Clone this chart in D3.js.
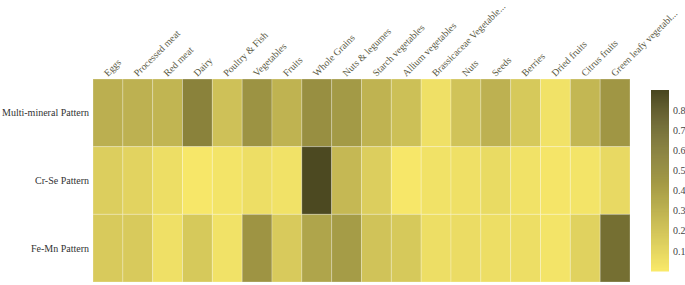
<!DOCTYPE html>
<html>
<head>
<meta charset="utf-8">
<script src="https://cdn.jsdelivr.net/npm/d3@7"></script>
<style>
  body { margin: 0; background: #fff; }
  text { font-family: "Liberation Serif", "DejaVu Serif", serif; }
</style>
</head>
<body>
<div id="heatmap"></div>
<script>
// set the dimensions and margins of the graph
var margin = {top: 79, right: 55, bottom: 2, left: 93},
    width = 630 - margin.left,
    height = 282 - margin.top;

var foods = ["Eggs", "Processed meat", "Red meat", "Dairy", "Poultry & Fish",
    "Vegetables", "Fruits", "Whole Grains", "Nuts & legumes", "Starch vegetables",
    "Allium vegetables", "Brassicaceae Vegetable...", "Nuts", "Seeds", "Berries",
    "Dried fruits", "Citrus fruits", "Green leafy vegetabl..."]

var patterns = ["Multi-mineral Pattern", "Cr-Se Pattern", "Fe-Mn Pattern"]

var multiMineral = [0.32, 0.31, 0.29, 0.57, 0.22, 0.48, 0.30, 0.50, 0.44,
    0.30, 0.23, 0.05, 0.21, 0.31, 0.18, 0.04, 0.28, 0.46]
var crSe = [0.15, 0.12, 0.06, 0.01, 0.03, 0.06, 0.04, 0.89, 0.27,
    0.15, 0.01, 0.04, 0.05, 0.08, 0.04, 0.02, 0.03, 0.09]
var feMn = [0.17, 0.17, 0.05, 0.18, 0.04, 0.47, 0.17, 0.38, 0.43,
    0.21, 0.18, 0.06, 0.07, 0.06, 0.06, 0.03, 0.13, 0.68]

var legendTicks = [0.1, 0.2, 0.3, 0.4, 0.5, 0.6, 0.7, 0.8]

var rows = [multiMineral, crSe, feMn]
var cells = []
for (let i = 0; i < patterns.length; i++) {
    for (let j = 0; j < foods.length; j++) {
        cells.push({row: patterns[i], col: foods[j], value: rows[i][j]})
    }
}

var svg = d3.select("#heatmap")
  .append("svg")
    .attr("width", 685)
    .attr("height", 285)
  .append("g")
    .attr("transform", "translate(" + margin.left + "," + margin.top + ")");

var x = d3.scaleBand().domain(foods).range([0, width])
var y = d3.scaleBand().domain(patterns).range([0, height])

var color = d3.scaleLinear()
    .domain([0, 0.9])
    .range(["#f9e96a", "#4a4720"])
    .interpolate(d3.interpolateRgb)

// cells
svg.selectAll("rect.cell")
    .data(cells)
    .enter().append("rect")
    .attr("class", "cell")
    .attr("x", function(d) { return x(d.col); })
    .attr("y", function(d) { return y(d.row); })
    .attr("width", x.bandwidth())
    .attr("height", y.bandwidth())
    .attr("fill", function(d) { return color(d.value); })
    .attr("stroke", "rgba(255,255,255,0.25)")
    .attr("stroke-width", 1)

// top labels
svg.selectAll("text.col")
    .data(foods)
    .enter().append("text")
    .attr("class", "col")
    .attr("transform", function(d) {
        return "translate(" + (x(d) + x.bandwidth() / 2) + ",-2)rotate(-45)";
    })
    .attr("font-size", "9.8px")
    .attr("fill", "#5a5a45")
    .text(function(d) { return d; })

// left labels
svg.selectAll("text.row")
    .data(patterns)
    .enter().append("text")
    .attr("class", "row")
    .attr("x", -4)
    .attr("y", function(d) { return y(d) + y.bandwidth() / 2; })
    .attr("dy", "0.35em")
    .attr("text-anchor", "end")
    .attr("font-size", "10px")
    .attr("fill", "#333")
    .text(function(d) { return d; })

// color bar
var barX = 651 - margin.left, barW = 18
var yBar = d3.scaleLinear().domain([0, 0.9]).range([271 - margin.top, 90 - margin.top])
var steps = d3.range(0, 0.9, 0.005)
svg.append("g")
    .selectAll("rect")
    .data(steps)
    .enter().append("rect")
    .attr("x", barX)
    .attr("y", function(d) { return yBar(d + 0.005); })
    .attr("width", barW)
    .attr("height", function(d) { return yBar(d) - yBar(d + 0.005) + 0.5; })
    .attr("fill", function(d) { return color(d + 0.0025); })

svg.append("g")
    .attr("transform", "translate(" + (barX + barW) + ",0)")
    .call(d3.axisRight(yBar).tickValues(legendTicks).tickSize(0).tickPadding(4))
    .call(function(g) { g.select(".domain").remove(); })
    .selectAll("text")
    .attr("font-family", "Liberation Serif, serif")
    .attr("font-size", "10px")
    .attr("fill", "#444")
</script>
</body>
</html>
